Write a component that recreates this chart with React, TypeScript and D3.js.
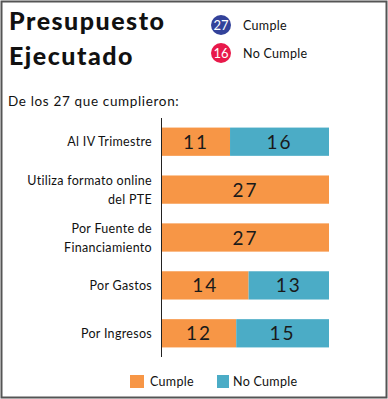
import React from 'react';
import * as d3 from 'd3';

// categories and values
const categories = [
  ['Al IV Trimestre'],
  ['Utiliza formato online', 'del PTE'],
  ['Por Fuente de', 'Financiamiento'],
  ['Por Gastos'],
  ['Por Ingresos'],
];
const cumple = [11, 27, 27, 14, 12];
const noCumple = [16, 0, 0, 13, 15];

const totalCumple = 27;
const totalNoCumple = 16;

const ORANGE = '#F79646';
const BLUE = '#4BACC6';
const FONT = 'Lato, "DejaVu Sans", sans-serif';

const W = 388;
const H = 399;

const App: React.FC = () => {
  const keys = categories.map((_, i) => String(i));
  const y = d3.scaleBand<string>().domain(keys).range([118, 357]).paddingInner(0.41).paddingOuter(0.2);
  const x = d3.scaleLinear().domain([0, 27]).range([162, 329]);

  return (
    <svg width={W} height={H} style={{ display: 'block', position: 'absolute', left: 0, top: 0 }} fontFamily={FONT}>
      <rect x={0} y={0} width={W} height={H} fill="#fff" />
      <rect x={1.5} y={1.5} width={W - 3} height={H - 3} fill="none" stroke="#555" strokeWidth={2} />

      {/* title */}
      <text x={9} y={30} fontSize={25} fontWeight={900} fill="#111" letterSpacing={1.5}>Presupuesto</text>
      <text x={9} y={65} fontSize={25} fontWeight={900} fill="#111" letterSpacing={1.5}>Ejecutado</text>

      {/* summary badges */}
      <circle cx={221} cy={25} r={10} fill="#33429A" />
      <text x={221} y={30} fontSize={13} fill="#fff" textAnchor="middle">{totalCumple}</text>
      <text x={243} y={30} fontSize={12.5} fill="#111" letterSpacing={0.3}>Cumple</text>
      <circle cx={221} cy={53} r={10} fill="#E8194A" />
      <text x={221} y={58} fontSize={13} fill="#fff" textAnchor="middle">{totalNoCumple}</text>
      <text x={243} y={58} fontSize={12.5} fill="#111" letterSpacing={0.3}>No Cumple</text>

      <text x={8} y={106} fontSize={13.5} fill="#111" letterSpacing={0.65}>De los 27 que cumplieron:</text>

      {/* bars */}
      {categories.map((lines, i) => {
        const y0 = y(String(i))!;
        const bh = y.bandwidth();
        const cy = y0 + bh / 2;
        return (
          <g key={i}>
            {lines.map((ln, j) => (
              <text key={j} x={152} y={cy + 4.5 + (j - (lines.length - 1) / 2) * 19} fontSize={12.5} fill="#111" textAnchor="end" letterSpacing={0.3}>{ln}</text>
            ))}
            <rect x={x(0)} y={y0} width={x(cumple[i]) - x(0)} height={bh} fill={ORANGE} />
            {noCumple[i] > 0 && (
              <rect x={x(cumple[i])} y={y0} width={x(cumple[i] + noCumple[i]) - x(cumple[i])} height={bh} fill={BLUE} />
            )}
            <text x={(x(0) + x(cumple[i])) / 2} y={cy + 7} fontSize={19} fill="#1a1a1a" textAnchor="middle" letterSpacing={2}>{cumple[i]}</text>
            {noCumple[i] > 0 && (
              <text x={(x(cumple[i]) + x(cumple[i] + noCumple[i])) / 2} y={cy + 7} fontSize={19} fill="#1a1a1a" textAnchor="middle" letterSpacing={2}>{noCumple[i]}</text>
            )}
          </g>
        );
      })}
      <line x1={161.5} x2={161.5} y1={118} y2={357} stroke="#222" strokeWidth={1} />

      {/* legend */}
      <rect x={130} y={375} width={14} height={13} fill={ORANGE} />
      <text x={150} y={386} fontSize={12.5} fill="#111" letterSpacing={0.3}>Cumple</text>
      <rect x={217} y={375} width={12} height={13} fill={BLUE} />
      <text x={233} y={386} fontSize={12.5} fill="#111" letterSpacing={0.3}>No Cumple</text>
    </svg>
  );
};

export default App;
